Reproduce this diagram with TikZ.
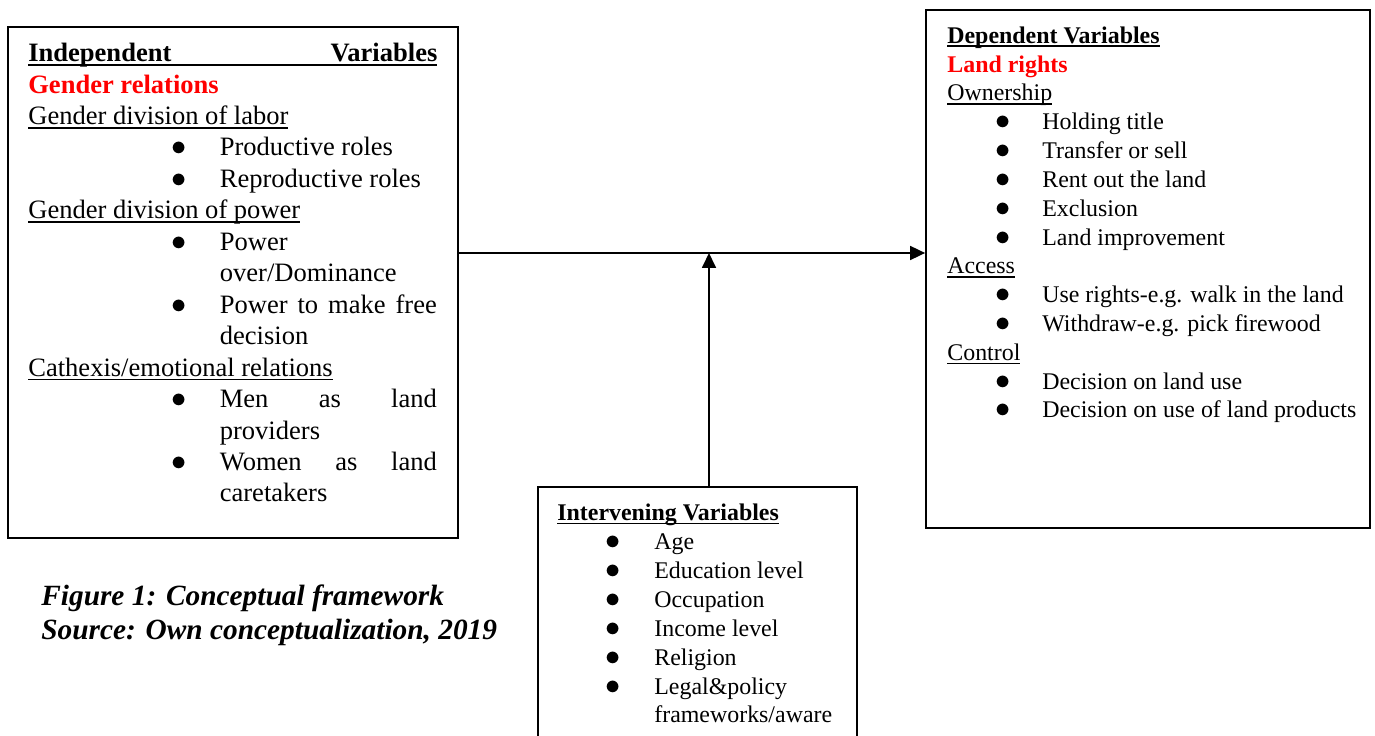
\documentclass[tikz,border=0pt]{standalone}
\usepackage{fontspec}
\setmainfont{Liberation Serif}
\usetikzlibrary{arrows.meta,positioning,calc}
\newcommand{\undl}[1]{\sbox0{#1}\rlap{\rule[-0.16em]{\wd0}{0.07em}}\usebox0}
\newcommand{\bigbul}{\scalebox{1.2}{$\bullet$}}
\newcommand{\lbul}{\hspace*{2.87cm}\makebox[0.96cm][l]{\bigbul}}
\newcommand{\lcont}{\hspace*{3.83cm}}
\newcommand{\rbul}{\hspace*{0.97cm}\makebox[0.93cm][l]{\bigbul}}
\newcommand{\ibul}{\hspace*{0.97cm}\makebox[0.97cm][l]{\bigbul}}
\newcommand{\icont}{\hspace*{1.94cm}}

\begin{document}
\begin{tikzpicture}[
  varbox/.style={draw,line width=1pt,minimum width=#1,inner sep=0pt},
  boxtext/.style={align=left,inner sep=0pt,anchor=base west},
  indfont/.style={font=\fontsize{15.1}{17.9}\selectfont},
  depfont/.style={font=\fontsize{13.6}{16.4}\selectfont},
  intfont/.style={font=\fontsize{13.6}{16.45}\selectfont},
  flow/.style={line width=1pt,-{Triangle[length=0.3cm,width=0.28cm]}}]
  \clip (0,0) rectangle (27.5,14.72);
  % Boxes
  \node[varbox=9cm,minimum height=10.22cm] (indep) at (4.66,9.07) {};
  \node[varbox=8.88cm,minimum height=10.36cm] (dep) at (22.96,9.34) {};
  \node[varbox=6.38cm,minimum height=5.48cm] (inter) at (13.95,2.24) {};
  % Independent variables (anchored at last line)
  \node[boxtext,indfont] (indtxt) at (0.56,4.68) {\textbf{\undl{\makebox[8.18cm][s]{Independent Variables}}}\\
    \textcolor{red}{\textbf{Gender relations}}\\
    \undl{Gender division of labor}\\
    \lbul Productive roles\\
    \lbul Reproductive roles\\
    \undl{Gender division of power}\\
    \lbul Power\\
    \lcont over/Dominance\\
    \lbul\makebox[4.34cm][s]{Power to make free}\\
    \lcont decision\\
    \undl{Cathexis/emotional relations}\\
    \lbul\makebox[4.34cm][s]{Men as land}\\
    \lcont providers\\
    \lbul\makebox[4.34cm][s]{Women as land}\\
    \lcont caretakers};
  % Dependent variables
  \node[boxtext,depfont] (deptxt) at (18.94,6.36) {\textbf{\undl{Dependent Variables}}\\
    \textcolor{red}{\textbf{Land rights}}\\
    \undl{Ownership}\\
    \rbul Holding title\\
    \rbul Transfer or sell\\
    \rbul Rent out the land\\
    \rbul Exclusion\\
    \rbul Land improvement\\
    \undl{Access}\\
    \rbul Use rights-e.g. walk in the land\\
    \rbul Withdraw-e.g. pick firewood\\
    \undl{Control}\\
    \rbul Decision on land use\\
    \rbul Decision on use of land products};
  % Intervening variables
  \node[boxtext,intfont] (inttxt) at (11.14,0.26) {\textbf{\undl{Intervening Variables}}\\
    \ibul Age\\
    \ibul Education level\\
    \ibul Occupation\\
    \ibul Income level\\
    \ibul Religion\\
    \ibul Legal\&policy\\
    \icont frameworks/aware};
  % Caption
  \node[boxtext,font=\fontsize{16.7}{19.35}\selectfont\bfseries\itshape] (caption) at (0.82,1.92)
    {Figure 1: Conceptual framework\\Source: Own conceptualization, 2019};
  % Arrows
  \coordinate (join) at (14.18,9.66);
  \draw[flow] (indep.east |- join) -- (dep.west |- join);
  \draw[flow] (inter.north -| join) -- (join);
\end{tikzpicture}
\end{document}
